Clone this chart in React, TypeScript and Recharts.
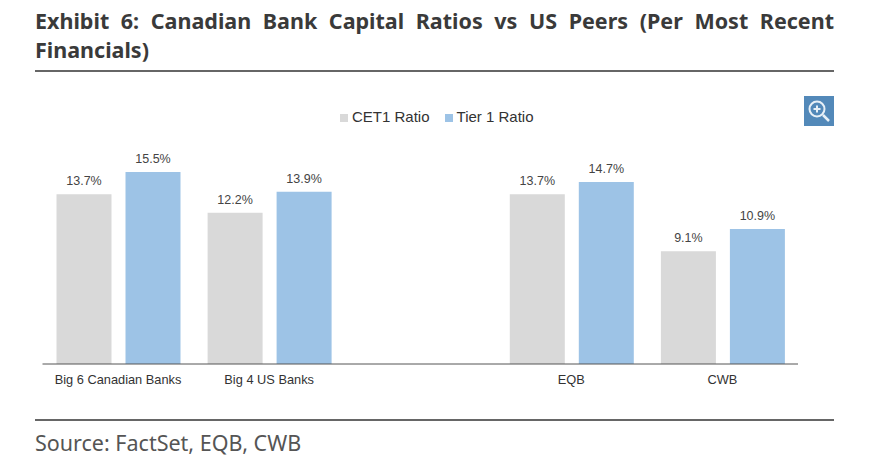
import React from 'react'
import { BarChart, Bar, XAxis, YAxis, Legend, LabelList } from 'recharts'

const categories = ['Big 6 Canadian Banks', 'Big 4 US Banks', '', 'EQB', 'CWB']
const cet1Values = [13.7, 12.2, null, 13.7, 9.1]
const tier1Values = [15.5, 13.9, null, 14.7, 10.9]

const chartData = categories.map((name, i) => ({
  name,
  cet1: cet1Values[i],
  tier1: tier1Values[i]
}))

const formatPct = (v: any) => (v == null ? '' : `${v.toFixed(1)}%`)
const chartFont = '"Liberation Sans", Arial, sans-serif'
const textFont = '"Noto Sans", sans-serif'

const App = () => {
  return (
    <div style={{ position: 'absolute', left: 0, top: 0, width: 870, height: 460, background: '#fff', overflow: 'hidden' }}>
      <div
        style={{
          position: 'absolute',
          left: 35,
          top: 6,
          width: 799,
          fontFamily: textFont,
          fontWeight: 700,
          fontSize: 21.5,
          lineHeight: '29px',
          color: '#3a3a3a',
          textAlign: 'justify'
        }}
      >
        Exhibit 6: Canadian Bank Capital Ratios vs US Peers (Per Most Recent Financials)
      </div>
      <div style={{ position: 'absolute', left: 35, top: 70, width: 799, height: 1.5, background: '#666' }} />

      <BarChart
        width={870}
        height={460}
        data={chartData}
        barGap={14}
        barSize={55}
        margin={{ top: 121, right: 72, bottom: 66, left: 42.5 }}
        style={{ fontFamily: chartFont }}
      >
        <XAxis
          dataKey="name"
          height={30}
          interval={0}
          tickLine={false}
          stroke="#555"
          tick={{ fontSize: 12.8, fill: '#333' }}
          tickMargin={5}
        />
        <YAxis hide domain={[0, 18]} />
        <Legend
          verticalAlign="top"
          align="left"
          iconType="square"
          iconSize={8}
          wrapperStyle={{ top: 107, left: 340, width: 220, fontSize: 15, lineHeight: '20px' }}
          formatter={(value: string) => <span style={{ color: '#333', marginRight: 5 }}>{value}</span>}
        />
        <Bar dataKey="cet1" name="CET1 Ratio" fill="#d9d9d9" isAnimationActive={false}>
          <LabelList dataKey="cet1" position="top" offset={9} formatter={formatPct} style={{ fontSize: 12.5, fill: '#444' }} />
        </Bar>
        <Bar dataKey="tier1" name="Tier 1 Ratio" fill="#9dc3e6" isAnimationActive={false}>
          <LabelList dataKey="tier1" position="top" offset={9} formatter={formatPct} style={{ fontSize: 12.5, fill: '#444' }} />
        </Bar>
      </BarChart>

      <svg style={{ position: 'absolute', left: 804, top: 96 }} width={30} height={30}>
        <rect width={30} height={30} fill="#5389b9" />
        <circle cx={13} cy={13} r={7.5} fill="none" stroke="#e8f0f7" strokeWidth={2} />
        <path d="M9.5 13h7M13 9.5v7" stroke="#e8f0f7" strokeWidth={2} />
        <path d="M19 19l6 6" stroke="#e8f0f7" strokeWidth={2.5} />
      </svg>

      <div style={{ position: 'absolute', left: 35, top: 419, width: 799, height: 1.5, background: '#666' }} />
      <div
        style={{
          position: 'absolute',
          left: 35,
          top: 428,
          fontFamily: textFont,
          fontSize: 21.5,
          lineHeight: '29px',
          color: '#555'
        }}
      >
        Source: FactSet, EQB, CWB
      </div>
    </div>
  )
}

export default App
